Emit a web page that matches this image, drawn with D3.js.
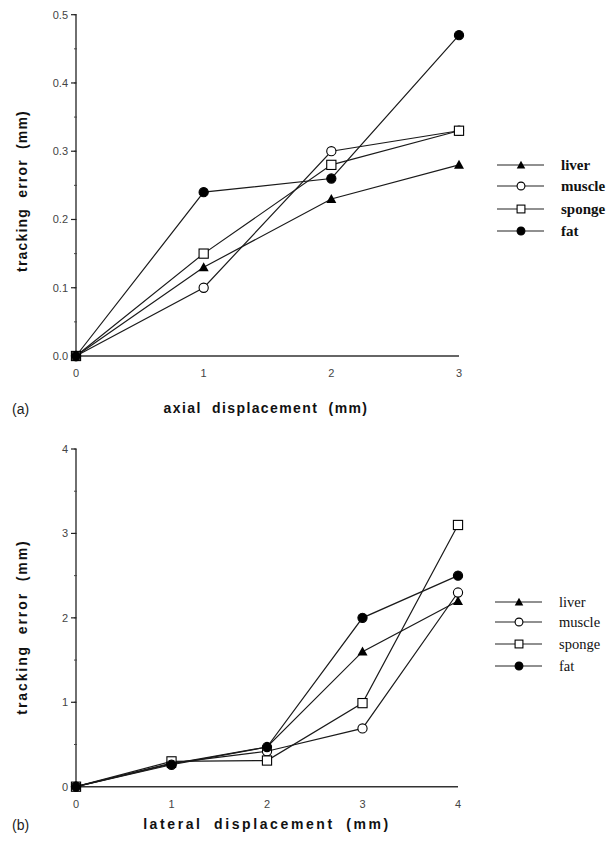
<!DOCTYPE html>
<meta charset="utf-8">
<body style="margin:0;background:#fff">
<svg width="616" height="846"></svg>
<script src="https://cdn.jsdelivr.net/npm/d3@7"></script>
<script>
// panel (a)
var seriesNames = ["liver", "muscle", "sponge", "fat"];
var markers = ["triangle", "circleOpen", "square", "circle"];
var axialX = [0, 1, 2, 3];
var axialLiver = [0, 0.13, 0.23, 0.28];
var axialMuscle = [0, 0.10, 0.30, 0.33];
var axialSponge = [0, 0.15, 0.28, 0.33];
var axialFat = [0, 0.24, 0.26, 0.47];
var axialYTicks = [0.0, 0.1, 0.2, 0.3, 0.4, 0.5];

// panel (b)
var lateralX = [0, 1, 2, 3, 4];
var lateralLiver = [0, 0.27, 0.47, 1.6, 2.2];
var lateralMuscle = [0, 0.28, 0.42, 0.69, 2.3];
var lateralSponge = [0, 0.30, 0.31, 0.99, 3.1];
var lateralFat = [0, 0.26, 0.47, 2.0, 2.5];
var lateralYTicks = [0, 1, 2, 3, 4];

var svg = d3.select("svg");
var sans = "Liberation Sans, Arial, sans-serif";

function panel(opt) {
  var x = d3.scaleLinear().domain(opt.xdom).range([76, opt.xend]);
  var y = d3.scaleLinear().domain(opt.ydom).range([opt.y0, opt.ytop]);
  var g = svg.append("g");

  // y axis
  g.append("line").attr("x1", 76).attr("x2", 76)
    .attr("y1", y(opt.ydom[0])).attr("y2", y(opt.ydom[1]))
    .attr("stroke", "#222").attr("stroke-width", 1.3);
  g.selectAll(".minor").data(d3.range(opt.ydom[0], opt.ydom[1] + 1e-9, opt.minor))
    .enter().append("line")
    .attr("x1", 74).attr("x2", 77)
    .attr("y1", function(d) { return y(d); }).attr("y2", function(d) { return y(d); })
    .attr("stroke", "#444").attr("stroke-width", 1);
  g.selectAll(".major").data(opt.yticks).enter().append("line")
    .attr("x1", 71).attr("x2", 76)
    .attr("y1", function(d) { return y(d); }).attr("y2", function(d) { return y(d); })
    .attr("stroke", "#222").attr("stroke-width", 1.2);
  g.selectAll(".ylab").data(opt.yticks).enter().append("text")
    .attr("x", 68).attr("y", function(d) { return y(d) + 4; })
    .attr("text-anchor", "end")
    .attr("font-family", sans)
    .attr("font-size", 11).attr("fill", "#444")
    .text(function(d) { return opt.yfmt(d); });

  // x axis
  g.append("line").attr("x1", 76).attr("x2", opt.xend)
    .attr("y1", opt.y0).attr("y2", opt.y0)
    .attr("stroke", "#333").attr("stroke-width", 1.4);
  g.selectAll(".xlab").data(opt.xs).enter().append("text")
    .attr("x", function(d) { return x(d); }).attr("y", opt.y0 + 21)
    .attr("text-anchor", "middle")
    .attr("font-family", sans)
    .attr("font-size", 11).attr("fill", "#444")
    .text(function(d) { return d; });

  // titles
  g.append("text")
    .attr("transform", "translate(27," + opt.ylabelY + ") rotate(-90)")
    .attr("text-anchor", "middle")
    .attr("font-family", sans)
    .attr("font-weight", "bold").attr("font-size", 14).attr("fill", "#111")
    .attr("letter-spacing", opt.ylabelLs).attr("word-spacing", 5)
    .text("tracking error (mm)");
  g.append("text")
    .attr("x", opt.xlabelX).attr("y", opt.xlabelY)
    .attr("text-anchor", "middle")
    .attr("font-family", sans)
    .attr("font-weight", "bold").attr("font-size", 14).attr("fill", "#111")
    .attr("letter-spacing", opt.xlabelLs).attr("word-spacing", 5)
    .text(opt.xlabel);
  g.append("text")
    .attr("x", 12).attr("y", opt.xlabelY + 1)
    .attr("font-family", sans)
    .attr("font-size", 14).attr("fill", "#222")
    .text(opt.tag);

  var line = d3.line()
    .x(function(d, i) { return x(opt.xs[i]); })
    .y(function(d) { return y(d); });

  opt.series.forEach(function(vals) {
    g.append("path").attr("d", line(vals))
      .attr("fill", "none").attr("stroke", "#1a1a1a").attr("stroke-width", 1.2);
  });
  opt.series.forEach(function(vals, k) {
    vals.forEach(function(v, i) {
      drawMarker(g, markers[k], x(opt.xs[i]), y(v));
    });
  });

  // legend
  seriesNames.forEach(function(name, k) {
    var ly = opt.legendY[k];
    g.append("line").attr("x1", opt.legendX).attr("x2", opt.legendX + 47)
      .attr("y1", ly).attr("y2", ly)
      .attr("stroke", "#222").attr("stroke-width", 1.2);
    drawMarker(g, markers[k], opt.legendX + 24, ly, 0.85);
    g.append("text").attr("x", opt.legendX + 64).attr("y", ly + 5)
      .attr("font-family", "Liberation Serif, Times New Roman, serif")
      .attr("font-weight", opt.legendBold ? "bold" : "normal")
      .attr("font-size", opt.legendSize).attr("fill", "#111")
      .text(name);
  });
}

function drawMarker(g, type, cx, cy, s) {
  s = s || 1;
  if (type === "circle" || type === "circleOpen") {
    g.append("circle").attr("cx", cx).attr("cy", cy).attr("r", 4.6 * s)
      .attr("fill", type === "circle" ? "#000" : "#fff")
      .attr("stroke", "#000").attr("stroke-width", 1.1);
  } else if (type === "square") {
    var h = 4.6 * s;
    g.append("rect").attr("x", cx - h).attr("y", cy - h)
      .attr("width", 2 * h).attr("height", 2 * h)
      .attr("fill", "#fff").attr("stroke", "#000").attr("stroke-width", 1.1);
  } else {
    var t = 5 * s;
    g.append("path")
      .attr("d", "M" + cx + "," + (cy - t) + "L" + (cx + t) + "," + (cy + t * 0.8) + "L" + (cx - t) + "," + (cy + t * 0.8) + "Z")
      .attr("fill", "#000");
  }
}

panel({
  xs: axialX, xdom: [0, 3], xend: 459,
  ydom: [0, 0.5], y0: 356, ytop: 14.7,
  yticks: axialYTicks, minor: 0.05,
  yfmt: d3.format(".1f"),
  series: [axialLiver, axialMuscle, axialSponge, axialFat],
  ylabelY: 191, ylabelLs: 1.2,
  xlabelX: 266, xlabelY: 413, xlabelLs: 1.4,
  xlabel: "axial displacement (mm)", tag: "(a)",
  legendX: 497, legendY: [165, 186, 209, 231], legendBold: true, legendSize: 15
});

panel({
  xs: lateralX, xdom: [0, 4], xend: 458,
  ydom: [0, 4], y0: 786.7, ytop: 449,
  yticks: lateralYTicks, minor: 0.5,
  yfmt: d3.format("d"),
  series: [lateralLiver, lateralMuscle, lateralSponge, lateralFat],
  ylabelY: 627, ylabelLs: 1.9,
  xlabelX: 267, xlabelY: 829, xlabelLs: 2.6,
  xlabel: "lateral displacement (mm)", tag: "(b)",
  legendX: 495, legendY: [602, 622, 644, 666], legendBold: false, legendSize: 14.5
});
</script>
</body>
